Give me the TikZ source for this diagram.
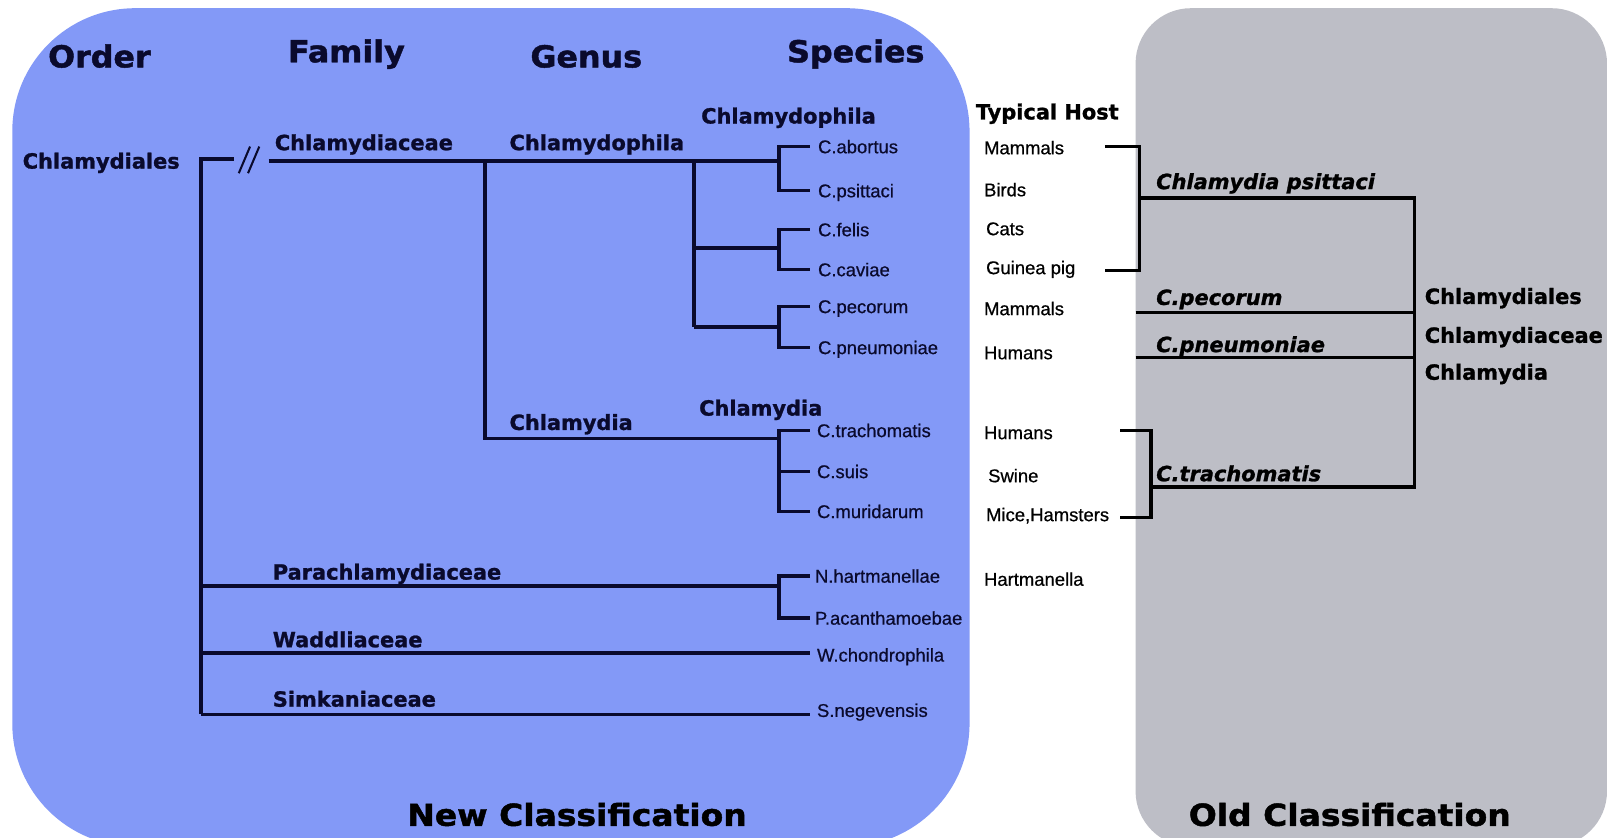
\documentclass[tikz,border=0pt]{standalone}
\usepackage{fontspec}
\setmainfont{Liberation Sans}
\newfontfamily\dv{DejaVu Sans}[BoldFeatures={FakeBold=1.2}, BoldItalicFeatures={FakeBold=1.2}]
\newfontfamily\dvh{DejaVu Sans}[FakeStretch=1.05, BoldFeatures={FakeBold=1.5}]
\newfontfamily\dvf{DejaVu Sans}[FakeStretch=1.09, BoldFeatures={FakeBold=1.5}]
\newfontfamily\spf{Liberation Sans}[FakeBold=0.6]
\definecolor{bluebg}{HTML}{8399F7}
\definecolor{graybg}{HTML}{BDBEC6}
\definecolor{ink}{HTML}{0A0A2C}
\begin{document}
\begin{tikzpicture}[x=1pt,y=-1pt,
  lbl/.style={font=\dv\bfseries\fontsize{20.4}{24}\selectfont, anchor=west, inner sep=0pt, text height=15pt, text depth=0pt, text=ink},
  olbl/.style={font=\dv\bfseries\itshape\fontsize{20.4}{24}\selectfont, anchor=west, inner sep=0pt, text height=15pt, text depth=0pt, text=black},
  rlbl/.style={lbl, text=black},
  sp/.style={font=\spf\fontsize{18}{21}\selectfont, anchor=west, inner sep=0pt, text height=13pt, text depth=0pt, text=ink},
  host/.style={sp, text=black},
  hdr/.style={font=\dvh\bfseries\fontsize{29.5}{34}\selectfont, inner sep=0pt, text height=21.5pt, text depth=0pt, text=ink},
  ftr/.style={hdr, font=\dvf\bfseries\fontsize{29.5}{34}\selectfont, text=black},
  br/.style={line width=3.4pt, draw=ink},
  obr/.style={line width=3.4pt, draw=black}]
\clip (0,0) rectangle (1568,817);
\fill[white] (0,0) rectangle (1568,817);
\fill[bluebg, rounded corners=120pt] (12,8) rectangle (946,826);
\fill[graybg, rounded corners=54pt] (1108,8) rectangle (1568,826);

% headers
\node[hdr] (hOrder) at (97,55) {Order};
\node[hdr] (hFamily) at (338,50) {Family};
\node[hdr] (hGenus) at (572,55) {Genus};
\node[hdr] (hSpecies) at (835,50) {Species};

% taxon labels
\node[lbl] (ord) at (22,157) {Chlamydiales};
\node[lbl] (fam1) at (268,139) {Chlamydiaceae};
\node[lbl] (gen1) at (497,139) {Chlamydophila};
\node[lbl] (sub1) at (684,113) {Chlamydophila};
\node[lbl] (gen2) at (497,412) {Chlamydia};
\node[lbl] (sub2) at (682,398) {Chlamydia};
\node[lbl] (fam2) at (266,558) {Parachlamydiaceae};
\node[lbl] (fam3) at (266,624) {Waddliaceae};
\node[lbl] (fam4) at (266,682) {Simkaniaceae};

% species
\node[sp] (s1) at (798,143) {C.abortus};
\node[sp] (s2) at (798,186) {C.psittaci};
\node[sp] (s3) at (798,224) {C.felis};
\node[sp] (s4) at (798,263) {C.caviae};
\node[sp] (s5) at (798,299) {C.pecorum};
\node[sp] (s6) at (798,339) {C.pneumoniae};
\node[sp] (s7) at (797,420) {C.trachomatis};
\node[sp] (s8) at (797,460) {C.suis};
\node[sp] (s9) at (797,499) {C.muridarum};
\node[sp] (s10) at (795,562) {N.hartmanellae};
\node[sp] (s11) at (795,603) {P.acanthamoebae};
\node[sp] (s12) at (797,639) {W.chondrophila};
\node[sp] (s13) at (797,693) {S.negevensis};

% hosts
\node[rlbl] (hh) at (952,109) {Typical Host};
\node[host] (h1) at (960,144) {Mammals};
\node[host] (h2) at (960,185) {Birds};
\node[host] (h3) at (962,223) {Cats};
\node[host] (h4) at (962,261) {Guinea pig};
\node[host] (h5) at (960,301) {Mammals};
\node[host] (h6) at (960,344) {Humans};
\node[host] (h7) at (960,422) {Humans};
\node[host] (h8) at (964,464) {Swine};
\node[host] (h9) at (962,502) {Mice,Hamsters};
\node[host] (h10) at (960,565) {Hartmanella};

% old classification labels
\node[olbl] (o1) at (1128,177) {Chlamydia psittaci};
\node[olbl] (o2) at (1128,290) {C.pecorum};
\node[olbl] (o3) at (1128,336) {C.pneumoniae};
\node[olbl] (o4) at (1128,462) {C.trachomatis};
\node[rlbl] (r1) at (1390,289) {Chlamydiales};
\node[rlbl] (r2) at (1390,327) {Chlamydiaceae};
\node[rlbl] (r3) at (1390,363) {Chlamydia};

% footers
\node[ftr] (fNew) at (563,795) {New Classification};
\node[ftr] (fOld) at (1317,795) {Old Classification};

% --- new classification tree ---
\coordinate (root) at (196,155);
\coordinate (stub) at (228,155);
\coordinate (famA) at (262,157);
\coordinate (gJ) at (473,157);
\coordinate (gC) at (473,428);
\coordinate (sgJ) at (677,157);
\coordinate (bx) at (760,157);
\coordinate (rootEnd) at (196,697);

\draw[br] (stub) -- (root) -- (rootEnd);
\draw[ink, line width=2pt] (233,169) -- (244,143) (242,169) -- (253,143);
\draw[br] (famA) -- (bx);
\draw[br] (gJ) -- (gC) -- (gC -| bx);
\draw[br] (sgJ) -- (677,319);
\draw[br] (677,242) -- (760,242);
\draw[br] (677,319) -- (760,319);
% species brackets
\draw[br] ([xshift=-8pt]s1.west) -- (s1.west -| bx) -- (s2.west -| bx) -- ([xshift=-8pt]s2.west);
\draw[br] ([xshift=-8pt]s3.west) -- (s3.west -| bx) -- (s4.west -| bx) -- ([xshift=-8pt]s4.west);
\draw[br] ([xshift=-8pt]s5.west) -- (s5.west -| bx) -- (s6.west -| bx) -- ([xshift=-8pt]s6.west);
\draw[br] ([xshift=-7pt]s7.west) -- (s7.west -| bx) -- (s9.west -| bx) -- ([xshift=-7pt]s9.west);
\draw[br] (s8.west -| bx) -- ([xshift=-7pt]s8.west);
\draw[br] (root |- 0,572) -- (760,572);
\draw[br] ([xshift=-5pt]s10.west) -- (s10.west -| bx) -- (s11.west -| bx) -- ([xshift=-5pt]s11.west);
\draw[br] (root |- 0,637) -- ([xshift=-7pt]s12.west |- 0,637);
\draw[br] (rootEnd) -- ([xshift=-7pt]s13.west |- 0,697);

% --- old classification tree ---
\coordinate (pJ) at (1112,193);
\coordinate (oV) at (1380,193);
\coordinate (tJ) at (1123,475);
\draw[obr] (1078,143) -- (1112,143) -- (1112,264) -- (1078,264);
\draw[obr] (pJ) -- (oV) -- (oV |- tJ) -- (tJ);
\draw[obr] (1108,305) -- (oV |- 0,305);
\draw[obr] (1108,349) -- (oV |- 0,349);
\draw[obr] (1093,420) -- (1123,420) -- (1123,505) -- (1093,505);
\end{tikzpicture}
\end{document}
